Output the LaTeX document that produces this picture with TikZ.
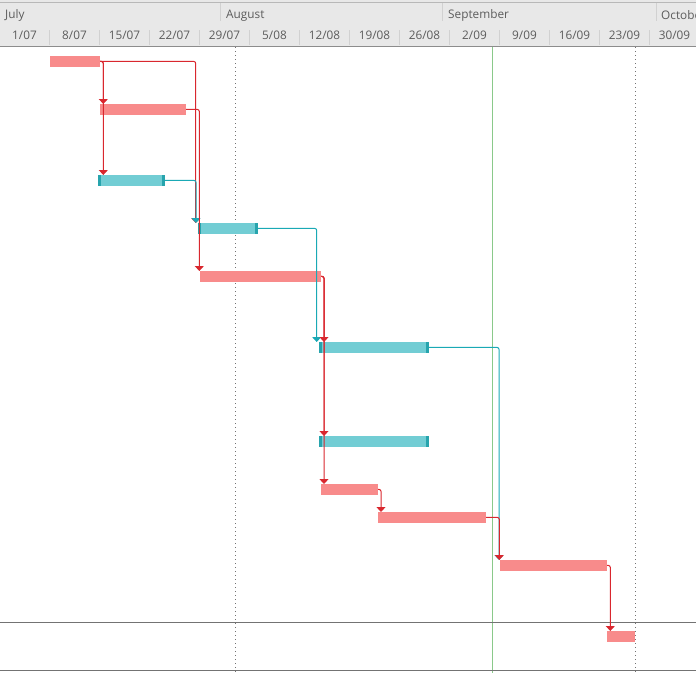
\documentclass[tikz,border=0pt]{standalone}
\usepackage{fontspec}
\setmainfont{Open Sans}
\usetikzlibrary{arrows.meta}

\definecolor{barred}{HTML}{F88B8B}
\definecolor{barteal}{HTML}{72CDD4}
\definecolor{capteal}{HTML}{27A4AD}
\definecolor{linkred}{HTML}{D9272E}
\definecolor{linkteal}{HTML}{1AA9B5}
\definecolor{headfill}{HTML}{E8E8E8}
\definecolor{headtext}{HTML}{5C5C5C}
\definecolor{todaygreen}{HTML}{8AC98A}

\begin{document}
\begin{tikzpicture}[
    x=1pt, y=-1pt,
    headlabel/.style={
        text=headtext,
        font=\fontsize{11.8}{14}\selectfont,
        inner sep=0pt
    },
    monthlabel/.style={headlabel, anchor=west},
    weeklabel/.style={headlabel, anchor=center},
    sepline/.style={draw=black!18, line width=1pt},
    bar/.style={
        inner sep=0pt,
        outer sep=0pt,
        minimum height=10.8pt,
        anchor=north west
    },
    redbar/.style={bar, fill=barred},
    tealbar/.style={
        bar,
        fill=barteal,
        path picture={
            \fill[capteal] (path picture bounding box.north west) rectangle ([xshift=3pt]path picture bounding box.south west);
            \fill[capteal] ([xshift=-3pt]path picture bounding box.north east) rectangle (path picture bounding box.south east);
        }
    },
    link/.style={line width=1pt, rounded corners=2pt, -{Triangle[width=9pt,length=5pt]}},
    redlink/.style={link, draw=linkred},
    teallink/.style={link, draw=linkteal},
    marker/.style={draw=black!55, line width=1pt, dash pattern=on 1pt off 3pt}
]
\useasboundingbox (0,0) rectangle (696,673);

% --- TIMESCALE ---
\fill[headfill] (0,0) rectangle (696,47);
\draw[black!28, line width=1pt] (0,2) -- (696,2);
\draw[black!45, line width=1pt] (0,46.5) -- (696,46.5);

\foreach \x in {220.5,442.5,656.5}
    \draw[sepline] (\x,3) -- (\x,21);
\node[monthlabel] (jul) at (5,15.5) {July};
\node[monthlabel] (aug) at (226,15.5) {August};
\node[monthlabel] (sep) at (448,15.5) {September};
\node[monthlabel] (oct) at (661,15.5) {October};

\foreach \x in {49.5,99.5,...,649.5}
    \draw[sepline] (\x,30) -- (\x,45);
\foreach \d/\m [count=\i from 0] in {1/07,8/07,15/07,22/07,29/07,5/08,12/08,19/08,26/08,2/09,9/09,16/09,23/09,30/09}
    \node[weeklabel] (wk\i) at (24.5+50*\i,35.5) {\d/\m};

% --- GRID ---
\draw[marker] (235,47) -- (235,673);
\draw[marker] (635,47) -- (635,673);
\draw[todaygreen, line width=1pt] (492.5,47) -- (492.5,673);
\draw[black!55, line width=1pt] (0,622.5) -- (696,622.5);
\draw[black!55, line width=1pt] (0,670.5) -- (696,670.5);

% --- BARS ---
\node[redbar, minimum width=50pt] (t1) at (50,56) {};
\node[redbar, minimum width=86pt] (t2) at (100,104) {};
\node[tealbar, minimum width=67pt] (t3) at (98,175) {};
\node[tealbar, minimum width=60pt] (t4) at (198,223) {};
\node[redbar, minimum width=121pt] (t5) at (200,271) {};
\node[tealbar, minimum width=110pt] (t6) at (319,342) {};
\node[tealbar, minimum width=110pt] (t7) at (319,436) {};
\node[redbar, minimum width=57pt] (t8) at (321,484) {};
\node[redbar, minimum width=108pt] (t9) at (378,512) {};
\node[redbar, minimum width=107pt] (t10) at (500,560) {};
\node[redbar, minimum width=28pt] (t11) at (607,631) {};

% --- LINKS ---
\draw[redlink] (t1.east) -| ([xshift=3.3pt]t2.north west);
\draw[redlink] (t1.east) -| ([xshift=5.3pt]t3.north west);
\draw[redlink] (t1.east) -| ([xshift=-2.3pt]t4.north west);
\draw[teallink] (t3.east) -| ([xshift=-2pt]t4.north west);
\draw[redlink] (t2.east) -| ([xshift=-0.7pt]t5.north west);
\draw[teallink] (t4.east) -| ([xshift=-2.3pt]t6.north west);
\draw[redlink] (t5.east) -| ([xshift=5pt]t6.north west);
\draw[redlink] (t5.east) -| ([xshift=5pt]t7.north west);
\draw[redlink] (t5.east) -| ([xshift=3pt]t8.north west);
\draw[redlink] (t8.east) -| ([xshift=3pt]t9.north west);
\draw[teallink] (t6.east) -| ([xshift=-1pt]t10.north west);
\draw[redlink] (t9.east) -| ([xshift=-0.7pt]t10.north west);
\draw[redlink] (t10.east) -| ([xshift=3.3pt]t11.north west);

\end{tikzpicture}
\end{document}
